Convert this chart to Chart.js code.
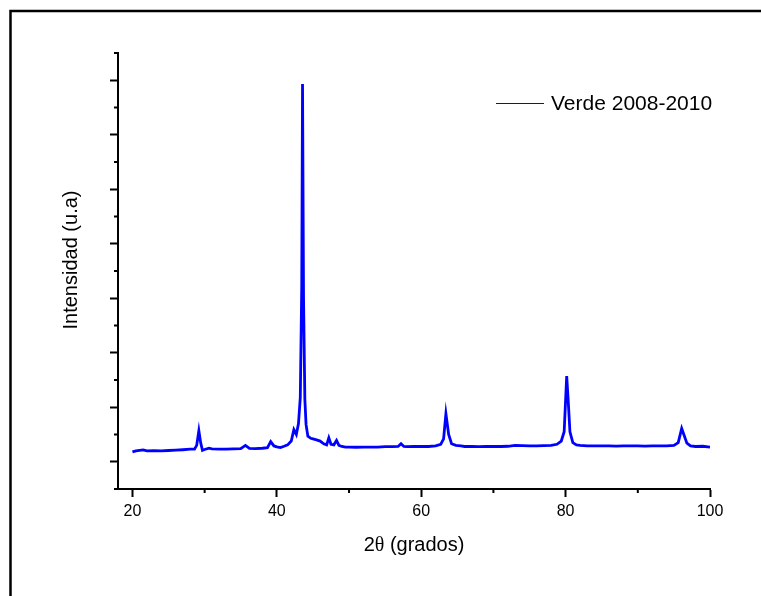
<!DOCTYPE html>
<html>
<head>
<meta charset="utf-8">
<script src="https://cdn.jsdelivr.net/npm/chart.js@4"></script>
<style>
  html, body { margin: 0; padding: 0; background: #fff; overflow: hidden; }
  #xrd { display: block; }
</style>
</head>
<body>
<canvas id="xrd" width="761" height="596"></canvas>
<script>
// 2θ positions (degrees)
const twoTheta = [
  20, 20.5, 21, 21.5, 22, 23, 24, 25, 26, 27, 28, 28.6, 28.9, 29.2, 29.45, 29.7,
  30, 30.6, 31, 32, 33, 34, 35, 35.65, 36.2, 37, 38, 38.7, 39.15, 39.6,
  40, 40.5, 41, 41.5, 42, 42.36, 42.7, 43, 43.25, 43.45, 43.56, 43.7, 43.88, 44.05, 44.3, 44.7,
  45, 45.5, 46, 46.5, 46.9, 47.2, 47.5, 47.9, 48.27, 48.6, 49, 49.5,
  50, 51, 52, 53, 54, 55, 56, 56.8, 57.2, 57.6, 58, 59,
  60, 61, 62, 62.7, 63.1, 63.42, 63.8, 64.2, 64.8, 65.5, 66, 67, 68, 69,
  70, 71, 72, 73, 74, 75, 76, 77, 78, 78.8, 79.4, 79.8, 80.15, 80.35, 80.6, 81, 81.5, 82,
  83, 84, 85, 86, 87, 88, 89, 90, 91, 92, 93, 94, 95, 95.6, 96.08, 96.4, 96.8, 97.3, 98, 99, 100
];

// intensity (arbitrary units)
const intensity = [
  90, 100, 105, 108, 100, 102, 100, 103, 106, 110, 115, 115, 150, 285, 175, 105,
  112, 125, 118, 115, 115, 118, 120, 150, 122, 120, 124, 130, 185, 145,
  136, 130, 142, 155, 190, 295, 250, 350, 590, 1600, 3465, 1500, 575, 340, 235, 215,
  210, 200, 190, 165, 155, 220, 160, 155, 195, 150, 140, 135,
  135, 133, 135, 135, 135, 138, 138, 140, 165, 140, 138, 140,
  140, 140, 145, 160, 210, 440, 250, 165, 150, 145, 140, 140, 138, 140,
  140, 140, 142, 150, 148, 145, 145, 148, 150, 160, 190, 275, 785, 570, 275, 175, 155, 150,
  145, 145, 146, 145, 144, 146, 145, 145, 144, 145, 146, 145, 150, 175, 305, 245, 170, 145, 140, 142, 135
];

const seriesLabel = 'Verde 2008-2010';
const xTitle = ['2', 'θ', ' (grados)'];
const yTitle = 'Intensidad (u.a)';
const xMajorTicks = [20, 40, 60, 80, 100];

const FONT = '"Liberation Sans", Arial, sans-serif';
Chart.defaults.font.family = FONT;
Chart.defaults.color = '#000';

// frame, minor ticks, titles and legend
const decorations = {
  id: 'decorations',
  afterDraw(chart) {
    const ctx = chart.ctx;
    const xs = chart.scales.x;
    const ys = chart.scales.y;
    const area = chart.chartArea;
    ctx.save();

    // outer frame (only top and left edges are inside the picture)
    ctx.strokeStyle = '#000';
    ctx.lineWidth = 2.5;
    ctx.beginPath();
    ctx.moveTo(10.5, chart.height);
    ctx.lineTo(10.5, 11);
    ctx.lineTo(chart.width, 11);
    ctx.stroke();

    // minor ticks
    ctx.lineWidth = 2;
    ctx.beginPath();
    for (let v = 30; v <= 90; v += 20) {
      const px = xs.getPixelForValue(v);
      ctx.moveTo(px, area.bottom);
      ctx.lineTo(px, area.bottom + 4);
    }
    for (let v = -250; v <= 3750; v += 500) {
      const py = ys.getPixelForValue(v);
      ctx.moveTo(area.left, py);
      ctx.lineTo(area.left - 4, py);
    }
    ctx.stroke();

    // x title (theta in a serif face)
    ctx.fillStyle = '#000';
    ctx.textBaseline = 'alphabetic';
    ctx.textAlign = 'left';
    const fonts = ['20px ' + FONT, '20px "Liberation Serif", serif', '20px ' + FONT];
    let total = 0;
    xTitle.forEach((t, i) => { ctx.font = fonts[i]; total += ctx.measureText(t).width; });
    let x = (area.left + area.right) / 2 - total / 2;
    xTitle.forEach((t, i) => {
      ctx.font = fonts[i];
      ctx.fillText(t, x, 551);
      x += ctx.measureText(t).width;
    });

    // y title
    ctx.save();
    ctx.translate(77, 260);
    ctx.rotate(-Math.PI / 2);
    ctx.font = '20px ' + FONT;
    ctx.textAlign = 'center';
    ctx.fillText(yTitle, 0, 0);
    ctx.restore();

    // legend
    const ds = chart.data.datasets[0];
    ctx.strokeStyle = ds.borderColor;
    ctx.lineWidth = 1;
    ctx.beginPath();
    ctx.moveTo(496, 103.5);
    ctx.lineTo(544, 103.5);
    ctx.stroke();
    ctx.font = '21px ' + FONT;
    ctx.textAlign = 'left';
    ctx.fillText(ds.label, 551, 110);

    ctx.restore();
  }
};

new Chart(document.getElementById('xrd'), {
  type: 'scatter',
  data: {
    datasets: [{
      label: seriesLabel,
      data: twoTheta.map((t, i) => ({ x: t, y: intensity[i] })),
      showLine: true,
      borderColor: '#0000ff',
      backgroundColor: '#0000ff',
      borderWidth: 2.8,
      pointRadius: 0,
      tension: 0
    }]
  },
  options: {
    responsive: false,
    animation: false,
    devicePixelRatio: 1,
    layout: { padding: { top: 53, right: 51, left: 0, bottom: 0 } },
    scales: {
      x: {
        type: 'linear',
        min: 18,
        max: 100,
        afterFit: (scale) => { scale.height = 107; },
        border: { display: true, color: '#000', width: 2 },
        grid: {
          drawOnChartArea: false,
          drawTicks: true,
          tickLength: 8,
          tickWidth: 2,
          tickColor: (c) => xMajorTicks.includes(c.tick && c.tick.value) ? '#000' : 'rgba(0,0,0,0)'
        },
        ticks: {
          stepSize: 10,
          includeBounds: false,
          autoSkip: false,
          maxRotation: 0,
          padding: 5,
          font: { size: 16 },
          callback: (v) => xMajorTicks.includes(v) ? String(v) : ''
        }
      },
      y: {
        type: 'linear',
        min: -250,
        max: 3750,
        afterFit: (scale) => { scale.width = 118; },
        border: { display: true, color: '#000', width: 2 },
        grid: {
          drawOnChartArea: false,
          drawTicks: true,
          tickLength: 8,
          tickWidth: 2,
          tickColor: (c) => (c.tick && c.tick.value % 500 === 0) ? '#000' : 'rgba(0,0,0,0)'
        },
        ticks: {
          stepSize: 250,
          autoSkip: false,
          display: false
        }
      }
    },
    plugins: {
      legend: { display: false },
      title: { display: false },
      tooltip: { enabled: false }
    }
  },
  plugins: [decorations]
});
</script>
</body>
</html>
